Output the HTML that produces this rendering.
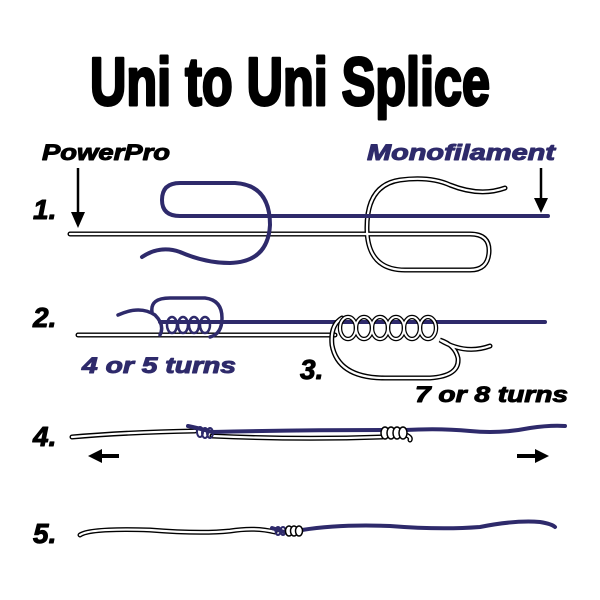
<!DOCTYPE html>
<html><head><style>
html,body{margin:0;padding:0;background:#fff;width:600px;height:600px;overflow:hidden}
svg{display:block}
.t{font-family:"Liberation Sans",sans-serif;font-weight:bold;font-style:italic;stroke-width:1;stroke-linejoin:round}
</style></head><body>
<svg width="600" height="600" viewBox="0 0 600 600" xmlns="http://www.w3.org/2000/svg">
<text x="290" y="105" text-anchor="middle" font-family="Liberation Sans,sans-serif" font-weight="bold" font-size="68" stroke="#000" stroke-width="3" stroke-linejoin="round" textLength="400" lengthAdjust="spacingAndGlyphs">Uni to Uni Splice</text>
<text class="t" x="42" y="160" font-size="22" stroke="#000" textLength="128" lengthAdjust="spacingAndGlyphs">PowerPro</text>
<text class="t" x="367" y="160" font-size="22" fill="#2e2a6b" stroke="#2e2a6b" textLength="188" lengthAdjust="spacingAndGlyphs">Monofilament</text>
<text class="t" x="33" y="219" font-size="28" stroke="#000" stroke-width="1.5">1.</text>
<text class="t" x="33" y="327" font-size="28" stroke="#000" stroke-width="1.5">2.</text>
<text class="t" x="300" y="379" font-size="28" stroke="#000" stroke-width="1.5">3.</text>
<text class="t" x="33" y="446" font-size="28" stroke="#000" stroke-width="1.5">4.</text>
<text class="t" x="33" y="543" font-size="28" stroke="#000" stroke-width="1.5">5.</text>
<text class="t" x="82" y="373" font-size="22" fill="#2e2a6b" stroke="#2e2a6b" textLength="154" lengthAdjust="spacingAndGlyphs">4 or 5 turns</text>
<text class="t" x="415" y="402" font-size="22" stroke="#000" textLength="153" lengthAdjust="spacingAndGlyphs">7 or 8 turns</text>
<g stroke="#000" stroke-width="2.5" fill="#000">
<line x1="78" y1="168" x2="78" y2="214"/><polygon points="71,212 85,212 78,228" stroke="none"/>
<line x1="541" y1="168" x2="541" y2="200"/><polygon points="534,198 548,198 541,213" stroke="none"/>
<line x1="100" y1="456" x2="119" y2="456" stroke-width="4"/><polygon points="88,456 102,449 102,463" stroke="none"/>
<line x1="517" y1="456" x2="536" y2="456" stroke-width="4"/><polygon points="549,456 535,449 535,463" stroke="none"/>
</g>
<g fill="none" stroke-linecap="round">
<path d="M70,234 L470,234 Q490,234 489,252 Q488,270 470,270 L405,270 Q368,270 367,230 Q366,185 400,180 Q430,176 450,185 Q480,197 505,188" stroke="#000" stroke-width="5"/>
<path d="M70,234 L470,234 Q490,234 489,252 Q488,270 470,270 L405,270 Q368,270 367,230 Q366,185 400,180 Q430,176 450,185 Q480,197 505,188" stroke="#fff" stroke-width="2.2"/>
<path d="M548,216 L180,216 Q162,216 162,200 Q162,183 180,183 L235,183 Q270,185 270,225 Q268,262 230,263 Q205,263 180,252 Q160,245 142,257" stroke="#2e2a6b" stroke-width="4"/>
<path d="M362,216 L380,216" stroke="#2e2a6b" stroke-width="4"/>
</g>
<g fill="none" stroke-linecap="round">
<path d="M78,335 L335,335" stroke="#000" stroke-width="5"/>
<path d="M78,335 L335,335" stroke="#fff" stroke-width="2.2"/>
<path d="M545,322 L160,322" stroke="#2e2a6b" stroke-width="4"/>
<path d="M118,315 Q140,305 155,315 Q165,325 160,335 M152,312 Q150,298 170,298 L205,298 Q222,300 222,318 Q222,334 210,337" stroke="#2e2a6b" stroke-width="3.5"/>
<g stroke="#2e2a6b" stroke-width="2.5">
<ellipse cx="172" cy="325" rx="5" ry="8"/><ellipse cx="183" cy="325" rx="5" ry="8"/><ellipse cx="194" cy="325" rx="5" ry="8"/><ellipse cx="205" cy="325" rx="5" ry="8"/>
</g>
<path d="M342,318 Q330,325 332,345 Q338,378 385,378 L430,378 Q460,376 458,358 Q455,345 440,340 Q465,355 490,346" stroke="#000" stroke-width="5"/>
<path d="M342,318 Q330,325 332,345 Q338,378 385,378 L430,378 Q460,376 458,358 Q455,345 440,340 Q465,355 490,346" stroke="#fff" stroke-width="2.2"/>
<g stroke="#000" stroke-width="4.5">
<ellipse cx="348" cy="328" rx="8" ry="11"/><ellipse cx="364" cy="328" rx="8" ry="11"/><ellipse cx="380" cy="328" rx="8" ry="11"/><ellipse cx="396" cy="328" rx="8" ry="11"/><ellipse cx="412" cy="328" rx="8" ry="11"/><ellipse cx="428" cy="328" rx="8" ry="11"/>
</g>
<g stroke="#fff" stroke-width="2">
<ellipse cx="348" cy="328" rx="8" ry="11"/><ellipse cx="364" cy="328" rx="8" ry="11"/><ellipse cx="380" cy="328" rx="8" ry="11"/><ellipse cx="396" cy="328" rx="8" ry="11"/><ellipse cx="412" cy="328" rx="8" ry="11"/><ellipse cx="428" cy="328" rx="8" ry="11"/>
</g>
</g>
<g fill="none" stroke-linecap="round">
<path d="M72,437 Q130,432 195,431 M212,436 Q300,440 382,437 M400,433 Q412,436 410,440" stroke="#000" stroke-width="5"/>
<path d="M72,437 Q130,432 195,431 M212,436 Q300,440 382,437 M400,433 Q412,436 410,440" stroke="#fff" stroke-width="2.2"/>
<path d="M188,426 Q198,428 212,432 Q300,430 382,430 M405,430 Q440,428 470,431 Q500,434 530,428 Q550,425 565,426" stroke="#2e2a6b" stroke-width="4"/>
<g stroke="#2e2a6b" stroke-width="2"><ellipse cx="200" cy="432" rx="3" ry="5"/><ellipse cx="205" cy="433" rx="3" ry="5"/><ellipse cx="210" cy="433" rx="3" ry="5"/></g>
<g stroke="#000" stroke-width="1.5" fill="#fff"><ellipse cx="385" cy="433" rx="4" ry="6"/><ellipse cx="391" cy="433" rx="4" ry="6"/><ellipse cx="397" cy="433" rx="4" ry="6"/><ellipse cx="403" cy="433" rx="4" ry="6"/></g>
</g>
<g fill="none" stroke-linecap="round">
<path d="M80,535 Q90,528 150,530 Q200,534 230,531 Q255,527 275,532" stroke="#000" stroke-width="5"/>
<path d="M80,535 Q90,528 150,530 Q200,534 230,531 Q255,527 275,532" stroke="#fff" stroke-width="2.2"/>
<path d="M272,528 L284,532 M302,530 Q340,524 390,526 Q440,530 480,527 Q515,520 540,522 Q552,524 555,527" stroke="#2e2a6b" stroke-width="4"/>
<g stroke="#2e2a6b" stroke-width="2"><ellipse cx="278" cy="531" rx="2.5" ry="4"/><ellipse cx="283" cy="531" rx="2.5" ry="4"/></g>
<g stroke="#000" stroke-width="1.5" fill="#fff"><ellipse cx="289" cy="531" rx="3.5" ry="5"/><ellipse cx="294" cy="531" rx="3.5" ry="5"/><ellipse cx="299" cy="531" rx="3.5" ry="5"/></g>
</g>
</svg>
</body></html>
